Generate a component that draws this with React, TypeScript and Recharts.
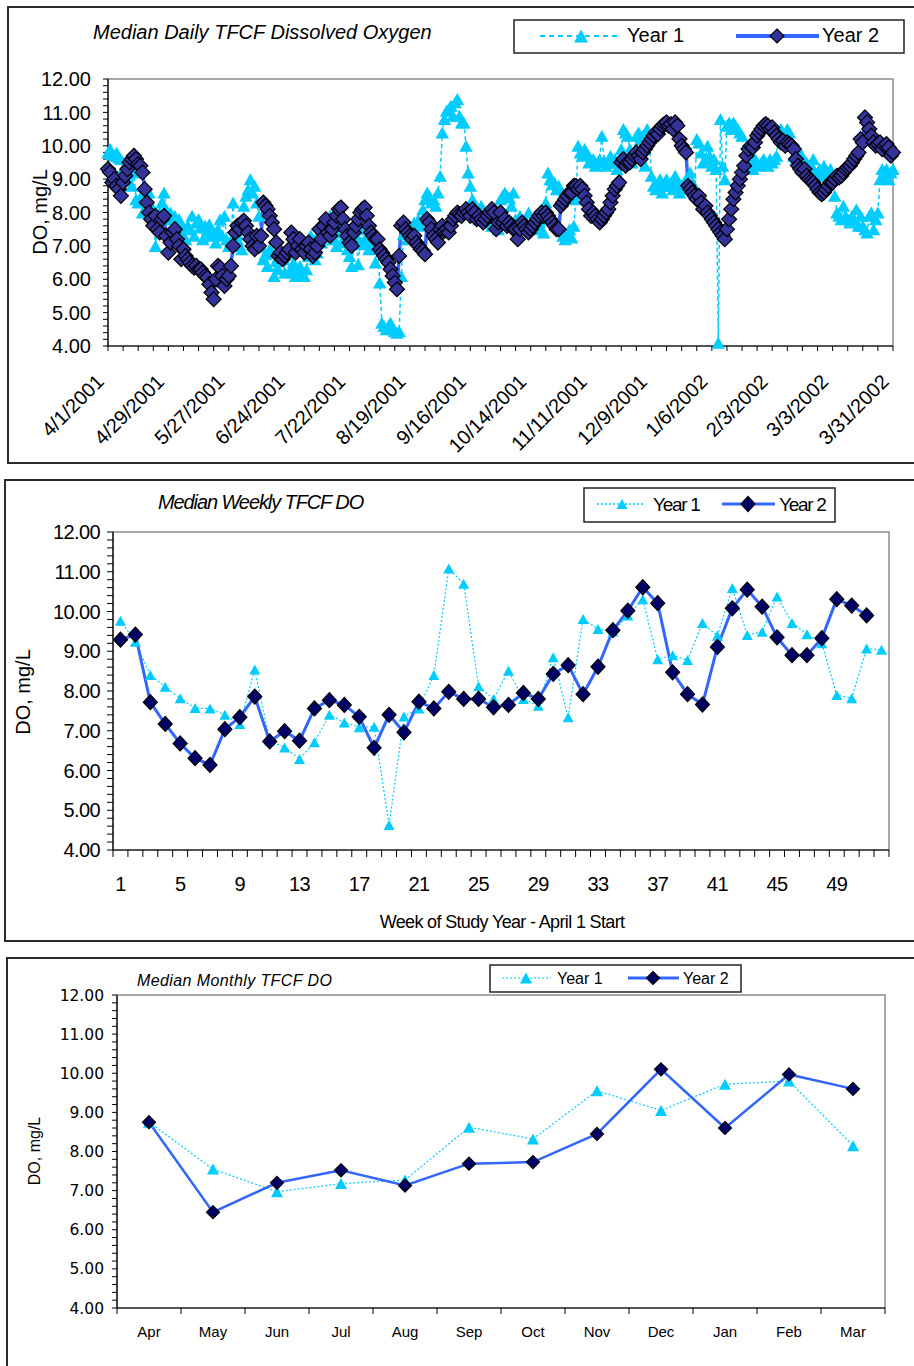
import React from 'react'
import { LineChart, Line, XAxis, YAxis, ReferenceArea } from 'recharts'

const SERIES_NAMES = ['Year 1', 'Year 2']

const Y_MAJOR = [4, 5, 6, 7, 8, 9, 10, 11, 12]

const DAILY_LABELS = [
  '4/1/2001', '4/29/2001', '5/27/2001', '6/24/2001', '7/22/2001', '8/19/2001', '9/16/2001',
  '10/14/2001', '11/11/2001', '12/9/2001', '1/6/2002', '2/3/2002', '3/3/2002', '3/31/2002',
]

// median daily DO, one row per week from 4/1
const DAILY_YEAR1 = [
  9.8, 9.9, 9.75, 9.7, 9.8, 9.65, 9.6,
  9.3, 9.25, 9.0, 9.3, 8.8, 9.2, 8.4,
  8.3, 8.45, 8.0, 8.5, 8.4, 8.6, 8.2,
  8.1, 7.0, 7.6, 8.0, 8.3, 8.6, 8.1,
  7.8, 8.0, 7.5, 7.9, 7.7, 7.8, 7.4,
  7.55, 7.2, 7.6, 7.5, 7.9, 7.3, 7.7,
  7.8, 7.55, 7.2, 7.6, 7.4, 7.65, 7.3,
  7.4, 7.1, 7.5, 7.8, 7.3, 7.9, 7.2,
  7.0, 7.15, 8.3, 7.0, 7.2, 7.6, 6.9,
  8.2, 8.5, 8.7, 9.0, 8.6, 8.8, 8.3,
  7.9, 7.0, 6.6, 6.75, 6.4, 6.9, 6.8,
  6.1, 6.55, 6.3, 6.7, 6.6, 6.2, 6.8,
  6.2, 6.3, 6.5, 6.1, 6.25, 6.4, 6.1,
  6.1, 6.3, 6.7, 7.3, 6.9, 6.6, 6.8,
  7.4, 7.1, 7.6, 7.3, 7.5, 7.9, 7.2,
  7.2, 7.0, 7.4, 7.7, 7.1, 7.3, 6.9,
  6.7, 6.4, 7.05, 7.3, 6.45, 7.1, 7.5,
  7.05, 7.3, 6.9, 7.1, 7.4, 6.5, 7.0,
  5.9, 4.7, 4.6, 4.5, 4.6, 4.7, 4.5,
  4.45, 4.4, 4.45, 6.1, 7.35, 7.5, 7.2,
  7.4, 7.55, 7.7, 7.3, 7.8, 7.6, 8.1,
  8.4, 8.6, 8.5, 8.3, 8.4, 8.2, 8.6,
  9.1, 10.4, 10.8, 11.05, 11.1, 11.2, 10.9,
  11.3, 11.4, 10.9, 10.7, 10.7, 10.0, 9.2,
  8.8, 8.4, 8.1, 8.0, 7.8, 8.2, 8.1,
  7.8, 7.7, 7.9, 7.6, 7.85, 7.8, 7.5,
  8.4, 8.5, 8.6, 8.5, 8.45, 8.2, 8.6,
  7.8, 7.6, 7.9, 7.8, 7.5, 7.7, 8.0,
  7.6, 7.7, 7.5, 7.9, 7.6, 7.8, 7.4,
  8.3, 9.2, 9.0, 8.85, 8.9, 8.7, 8.8,
  7.5, 7.3, 7.2, 7.3, 7.5, 7.25, 7.6,
  8.4, 10.0, 9.8, 9.7, 9.9, 9.8, 9.5,
  9.55, 9.6, 9.4, 9.5, 9.6, 10.3, 9.55,
  9.4, 9.5, 9.7, 9.5, 9.6, 9.3, 9.5,
  9.9, 10.5, 10.4, 10.3, 9.9, 9.5, 9.8,
  10.3, 10.4, 10.2, 10.3, 9.4, 10.5, 10.3,
  9.1, 8.8, 8.7, 8.8, 9.0, 8.6, 8.8,
  9.0, 8.8, 8.9, 8.7, 9.1, 8.9, 8.6,
  8.8, 8.7, 9.0, 8.8, 9.2, 8.9, 8.6,
  10.2, 10.1, 9.8, 9.5, 9.6, 10.0, 9.7,
  9.4, 9.6, 9.3, 4.1, 10.8, 9.4, 9.0,
  10.6, 10.7, 10.5, 10.7, 10.6, 10.5, 10.4,
  10.3, 9.4, 9.3, 9.5, 9.4, 9.3, 9.6,
  9.5, 9.4, 9.5, 9.6, 9.5, 9.4, 9.6,
  9.5, 9.6, 9.7, 10.4, 10.5, 10.4, 10.3,
  10.5, 10.4, 10.0, 9.7, 9.6, 9.7, 9.8,
  9.6, 9.4, 9.5, 9.3, 9.4, 9.6, 9.2,
  9.2, 9.3, 9.1, 9.4, 9.2, 9.0, 9.3,
  9.1, 8.5, 8.0, 7.9, 7.8, 8.2, 7.9,
  7.8, 7.7, 7.9, 7.8, 8.1, 7.6, 7.9,
  7.6, 7.5, 7.4, 7.9, 8.0, 7.5, 7.8,
  8.0, 9.0, 9.3, 9.05, 9.3, 9.0, 9.2,
  9.3,
]

const DAILY_YEAR2 = [
  9.3, 9.2, 8.9, 9.0, 8.8, 8.7, 8.5,
  8.9, 9.1, 9.3, 9.5, 9.6, 9.7, 9.6,
  9.45, 9.4, 9.2, 8.7, 8.3, 8.0, 7.8,
  7.6, 7.9, 7.5, 7.4, 7.8, 7.9, 7.3,
  6.8, 7.1, 7.4, 7.5, 7.2, 7.0, 6.6,
  6.9, 6.7, 6.6, 6.5, 6.4, 6.35, 6.4,
  6.3, 6.3, 6.2, 6.1, 6.05, 5.85, 5.6,
  5.4, 6.0, 6.4, 6.35, 6.1, 5.8, 6.0,
  6.1, 6.4, 7.0, 7.4, 7.6, 7.5, 7.7,
  7.75, 7.6, 7.4, 7.2, 7.0, 6.9, 7.3,
  7.0, 7.3, 8.3, 8.2, 8.1, 7.9, 7.7,
  7.5, 7.1, 6.7, 6.8, 6.6, 6.7, 6.8,
  6.9, 7.4, 7.2, 6.8, 7.0, 7.2, 6.9,
  6.8, 7.0, 7.1, 6.9, 6.7, 6.8, 7.0,
  7.5, 7.2, 7.6, 7.8, 7.4, 7.3, 7.5,
  7.7, 7.9, 8.1, 8.15, 7.8, 7.5, 7.3,
  7.1, 7.0, 7.4, 7.6, 7.8, 8.0, 8.1,
  8.15, 7.9, 7.6, 7.4, 7.3, 7.2, 7.2,
  6.9, 6.8, 6.7, 6.6, 6.5, 6.3, 6.1,
  5.9, 5.7, 6.7, 7.6, 7.7, 7.5, 7.4,
  7.3, 7.2, 7.3, 7.1, 7.0, 6.9, 6.85,
  6.75, 7.8, 7.7, 7.5, 7.3, 7.2, 7.1,
  7.5, 7.6, 7.45, 7.5, 7.4, 7.6, 7.8,
  7.9, 8.0, 7.95, 7.9, 8.0, 8.1, 8.0,
  7.9, 8.1, 8.0, 7.8, 7.9, 7.8, 7.7,
  7.8, 7.9, 8.0, 8.1, 8.0, 7.5, 7.7,
  8.0, 7.7, 7.8, 7.6, 7.7, 7.6, 7.5,
  7.5, 7.2, 7.5, 7.7, 7.6, 7.5, 7.4,
  7.5, 7.6, 7.7, 7.8, 7.9, 8.0, 7.9,
  8.0, 7.9, 7.8, 7.7, 7.6, 7.5, 7.5,
  8.2, 8.3, 8.4, 8.5, 8.6, 8.6, 8.8,
  8.8, 8.7, 8.8, 8.7, 8.5, 8.3, 8.1,
  7.9, 8.0, 7.9, 7.8, 7.7, 7.8, 7.9,
  8.0, 8.1, 8.3, 8.5, 8.7, 8.8, 8.9,
  9.5, 9.6, 9.4, 9.5, 9.5, 9.6, 9.7,
  9.8, 9.7, 9.6, 9.8, 9.9, 10.0, 10.1,
  10.2, 10.3, 10.4, 10.35, 10.5, 10.6, 10.65,
  10.7, 10.6, 10.65, 10.5, 10.7, 10.6, 10.2,
  10.0, 9.9, 9.8, 8.8, 8.7, 8.6, 8.5,
  8.4, 8.5, 8.3, 8.1, 8.2, 8.0, 7.9,
  7.8, 7.7, 7.6, 7.5, 7.4, 7.3, 7.2,
  7.5, 7.8, 8.1, 8.4, 8.6, 8.8, 9.0,
  9.2, 9.4, 9.7, 9.9, 10.0, 9.95, 10.1,
  10.3, 10.4, 10.5, 10.6, 10.65, 10.6, 10.5,
  10.55, 10.4, 10.3, 10.2, 10.1, 10.15, 10.0,
  10.1, 10.05, 10.0, 9.9, 9.6, 9.4, 9.3,
  9.2, 9.3, 9.1, 9.0, 8.95, 8.9, 8.8,
  8.7, 8.6, 8.55, 8.6, 8.7, 8.8, 8.9,
  8.9, 9.0, 9.1, 9.05, 9.1, 9.2, 9.3,
  9.35, 9.4, 9.5, 9.6, 9.7, 9.8, 10.2,
  10.1, 10.85, 10.7, 10.5, 10.3, 10.1, 10.0,
  10.05, 10.1, 9.9, 10.0, 10.05, 9.95, 9.7,
  9.8,
]

const WEEK_LABELS = [1, 5, 9, 13, 17, 21, 25, 29, 33, 37, 41, 45, 49]

const WEEKLY_YEAR1 = [
  9.77, 9.24, 8.4, 8.11, 7.82, 7.57, 7.56, 7.4, 7.17, 8.54,
  6.75, 6.58, 6.29, 6.71, 7.4, 7.21, 7.09, 7.1, 4.63, 7.36,
  7.56, 8.4, 11.08, 10.7, 8.12, 7.8, 8.51, 7.8, 7.63, 8.85,
  7.34, 9.81, 9.56, 9.5, 9.9, 10.31, 8.8, 8.9, 8.78, 9.71,
  9.39, 10.59, 9.41, 9.49, 10.38, 9.71, 9.43, 9.2, 7.9, 7.82,
  9.07, 9.04,
]

const WEEKLY_YEAR2 = [
  9.29, 9.42, 7.72, 7.17, 6.68, 6.31, 6.14, 7.04, 7.34, 7.86,
  6.73, 6.99, 6.75, 7.56, 7.77, 7.65, 7.35, 6.57, 7.4, 6.96,
  7.73, 7.56, 7.98, 7.8, 7.8, 7.59, 7.65, 7.95, 7.8, 8.43,
  8.65, 7.92, 8.61, 9.53, 10.02, 10.61, 10.21, 8.47, 7.92, 7.66,
  9.11, 10.08, 10.55, 10.12, 9.35, 8.9, 8.9, 9.33, 10.31, 10.15,
  9.9, null,
]

const MONTHS = ['Apr', 'May', 'Jun', 'Jul', 'Aug', 'Sep', 'Oct', 'Nov', 'Dec', 'Jan', 'Feb', 'Mar']
const MONTHLY_YEAR1 = [8.75, 7.55, 6.97, 7.18, 7.27, 8.62, 8.32, 9.55, 9.05, 9.72, 9.8, 8.15]
const MONTHLY_YEAR2 = [8.75, 6.45, 7.2, 7.52, 7.13, 7.69, 7.73, 8.45, 10.1, 8.6, 9.97, 9.6]

const CYAN = '#00CCFF'
const BLUE = '#3366FF'
const FONT = "'Liberation Sans', Arial, sans-serif"

const yTicks = Y_MAJOR.flatMap((v, i) =>
  i === 0 ? [v] : [0.8, 0.6, 0.4, 0.2].map((d) => Math.round((v - d) * 10) / 10).concat(v)
)
const isMajor = (v: number) => Math.abs(v - Math.round(v)) < 0.01

const dailyData = DAILY_YEAR1.map((v, i) => ({ day: i, y1: v, y2: DAILY_YEAR2[i] }))
const dailyTicks = dailyData.filter((d) => d.day % 7 === 0).map((d) => d.day)

const weeklyData = WEEKLY_YEAR1.map((v, i) => ({ week: i + 1, y1: v, y2: WEEKLY_YEAR2[i] }))
const weeklyTicks = weeklyData.flatMap((d) => [d.week - 0.5, d.week]).concat(weeklyData.length + 0.5)

const monthlyData = MONTHS.map((m, i) => ({ idx: i + 1, month: m, y1: MONTHLY_YEAR1[i], y2: MONTHLY_YEAR2[i] }))
const monthlyTicks = monthlyData.flatMap((d) => [d.idx - 0.5, d.idx]).concat(MONTHS.length + 0.5)

function triPts(cx: number, cy: number, w: number, h: number) {
  return `${cx},${cy - h / 2} ${cx + w / 2},${cy + h / 2} ${cx - w / 2},${cy + h / 2}`
}

function diaPts(cx: number, cy: number, rx: number, ry: number) {
  return `${cx},${cy - ry} ${cx + rx},${cy} ${cx},${cy + ry} ${cx - rx},${cy}`
}

function triangleDot(w: number, h: number) {
  return (p: any) => {
    const { cx, cy, index } = p
    if (!Number.isFinite(cx) || !Number.isFinite(cy)) return <g key={`t${index}`} />
    return <polygon key={`t${index}`} points={triPts(cx, cy, w, h)} fill={CYAN} />
  }
}

function diamondDot(rx: number, ry: number, fill: string) {
  return (p: any) => {
    const { cx, cy, index } = p
    if (!Number.isFinite(cx) || !Number.isFinite(cy)) return <g key={`d${index}`} />
    return (
      <polygon key={`d${index}`} points={diaPts(cx, cy, rx, ry)} fill={fill} stroke="#000" strokeWidth={1.2} />
    )
  }
}

function yTick(fontSize: number, family: string, spacing = 0) {
  return (p: any) => {
    const v = p.payload.value
    if (!isMajor(v)) return <g />
    return (
      <text x={p.x} y={p.y} dy="0.36em" textAnchor="end" fontSize={fontSize} fontFamily={family}
        letterSpacing={spacing} fill="#000">
        {v.toFixed(2)}
      </text>
    )
  }
}

function dailyTick(p: any) {
  const v = p.payload.value
  if (v % 28 !== 0) return <g />
  const ax = p.x - 3
  const ay = p.y + 32
  return (
    <text x={ax} y={ay} transform={`rotate(-45 ${ax} ${ay})`} textAnchor="end" fontSize={20}
      fontFamily={FONT} fill="#000">
      {DAILY_LABELS[v / 28]}
    </text>
  )
}

// ticks on category boundaries, labels in the middle of each category
function bandTick(labelOf: (v: number) => string | null, fontSize: number, spacing: number, dy: number, len: number) {
  return (p: any) => {
    const v = p.payload.value
    if (!Number.isInteger(v)) {
      return <line x1={p.x} x2={p.x} y1={p.y} y2={p.y + len} stroke="#000" strokeWidth={1} />
    }
    const label = labelOf(v)
    if (!label) return <g />
    return (
      <text x={p.x} y={p.y + dy} textAnchor="middle" fontSize={fontSize} fontFamily={FONT}
        letterSpacing={spacing} fill="#000">
        {label}
      </text>
    )
  }
}

const axisLine = { stroke: '#000', strokeWidth: 1.2 }

function DailyChart() {
  return (
    <LineChart width={914} height={470} data={dailyData} margin={{ top: 79, right: 21, bottom: 0, left: 0 }}>
      <ReferenceArea x1={0} x2={364} y1={4} y2={12} fill="none" stroke="#8c8c8c" strokeWidth={1.5} ifOverflow="visible" />
      <XAxis dataKey="day" type="number" domain={[0, 364]} ticks={dailyTicks} interval={0} height={124}
        axisLine={axisLine} tickLine={{ stroke: '#000' }} tickSize={5} tickMargin={0} tick={dailyTick} />
      <YAxis type="number" domain={[4, 12]} ticks={yTicks} interval={0} width={108}
        axisLine={axisLine} tickLine={{ stroke: '#000' }} tickSize={5} tickMargin={12} tick={yTick(20, FONT)} />
      <Line dataKey="y1" name={SERIES_NAMES[0]} stroke={CYAN} strokeWidth={1.5} strokeDasharray="4 3"
        dot={triangleDot(13.5, 12)} activeDot={false} isAnimationActive={false} />
      <Line dataKey="y2" name={SERIES_NAMES[1]} stroke={BLUE} strokeWidth={3.5}
        dot={diamondDot(7.5, 7.5, '#333399')} activeDot={false} isAnimationActive={false} />
    </LineChart>
  )
}

function WeeklyChart() {
  return (
    <LineChart width={914} height={480} data={weeklyData} margin={{ top: 62, right: 25, bottom: 0, left: 0 }}>
      <ReferenceArea x1={0.5} x2={52.5} y1={4} y2={12} fill="none" stroke="#8c8c8c" strokeWidth={1.5} ifOverflow="visible" />
      <XAxis dataKey="week" type="number" domain={[0.5, 52.5]} ticks={weeklyTicks} interval={0} height={100}
        axisLine={axisLine} tickLine={false} tickSize={0} tickMargin={0}
        tick={bandTick((v) => (WEEK_LABELS.includes(v) ? String(v) : null), 20, -0.6, 41, 7)} />
      <YAxis type="number" domain={[4, 12]} ticks={yTicks} interval={0} width={113}
        axisLine={axisLine} tickLine={{ stroke: '#000' }} tickSize={6} tickMargin={7} tick={yTick(20, FONT, -0.6)} />
      <Line dataKey="y1" name={SERIES_NAMES[0]} stroke={CYAN} strokeWidth={1.2} strokeDasharray="2 2"
        dot={triangleDot(11, 10)} activeDot={false} isAnimationActive={false} />
      <Line dataKey="y2" name={SERIES_NAMES[1]} stroke={BLUE} strokeWidth={3}
        dot={diamondDot(7, 7.5, '#000066')} activeDot={false} isAnimationActive={false} />
    </LineChart>
  )
}

function MonthlyChart() {
  return (
    <LineChart width={914} height={416} data={monthlyData} margin={{ top: 45, right: 29, bottom: 0, left: 0 }}>
      <ReferenceArea x1={0.5} x2={12.5} y1={4} y2={12} fill="none" stroke="#8c8c8c" strokeWidth={1.5} ifOverflow="visible" />
      <XAxis dataKey="idx" type="number" domain={[0.5, 12.5]} ticks={monthlyTicks} interval={0} height={58}
        axisLine={axisLine} tickLine={false} tickSize={0} tickMargin={0}
        tick={bandTick((v) => MONTHS[v - 1] ?? null, 15, 0, 29, 6)} />
      <YAxis type="number" domain={[4, 12]} ticks={yTicks} interval={0} width={117}
        axisLine={axisLine} tickLine={{ stroke: '#000' }} tickSize={5} tickMargin={8}
        tick={yTick(15.5, "'DejaVu Sans', sans-serif")} />
      <Line dataKey="y1" name={SERIES_NAMES[0]} stroke={CYAN} strokeWidth={1.2} strokeDasharray="2 2"
        dot={triangleDot(12, 11)} activeDot={false} isAnimationActive={false} />
      <Line dataKey="y2" name={SERIES_NAMES[1]} stroke={BLUE} strokeWidth={2.5}
        dot={diamondDot(6.5, 6.5, '#000066')} activeDot={false} isAnimationActive={false} />
    </LineChart>
  )
}

function LegendBox(props: {
  x: number; y: number; w: number; h: number; cy: number; fontSize: number; spacing: number; textDy: number
  l1: [number, number, number]; t1: number; l2: [number, number, number]; t2: number
  tri: [number, number]; dia: [number, number]; y1Width: number; y2Width: number; y1Dash: string
  diaFill: string
}) {
  const p = props
  return (
    <g>
      <rect x={p.x} y={p.y} width={p.w} height={p.h} fill="#fff" stroke="#222" strokeWidth={1.5} />
      <line x1={p.l1[0]} x2={p.l1[1]} y1={p.cy} y2={p.cy} stroke={CYAN} strokeWidth={p.y1Width} strokeDasharray={p.y1Dash} />
      <polygon points={triPts(p.l1[2], p.cy, p.tri[0], p.tri[1])} fill={CYAN} />
      <text x={p.t1} y={p.cy + p.textDy} fontSize={p.fontSize} letterSpacing={p.spacing} fontFamily={FONT}>
        {SERIES_NAMES[0]}
      </text>
      <line x1={p.l2[0]} x2={p.l2[1]} y1={p.cy} y2={p.cy} stroke={BLUE} strokeWidth={p.y2Width} />
      <polygon points={diaPts(p.l2[2], p.cy, p.dia[0], p.dia[1])} fill={p.diaFill} stroke="#000" strokeWidth={1.2} />
      <text x={p.t2} y={p.cy + p.textDy} fontSize={p.fontSize} letterSpacing={p.spacing} fontFamily={FONT}>
        {SERIES_NAMES[1]}
      </text>
    </g>
  )
}

function Overlay() {
  return (
    <svg width={914} height={1366} style={{ position: 'absolute', left: 0, top: 0, pointerEvents: 'none' }}>
      <g fill="none" stroke="#2b2b2b" strokeWidth={2}>
        <rect x={8} y={7} width={920} height={456} />
        <rect x={5} y={480} width={920} height={461} />
        <rect x={7} y={958} width={920} height={420} />
      </g>

      <text x={93} y={39} fontSize={20} fontStyle="italic" fontFamily={FONT}>
        Median Daily TFCF Dissolved Oxygen
      </text>
      <text x={47} y={212} transform="rotate(-90 47 212)" textAnchor="middle" fontSize={20} fontFamily={FONT}>
        DO, mg/L
      </text>
      <LegendBox x={514} y={20} w={390} h={33} cy={36} fontSize={20} spacing={0} textDy={6}
        l1={[540, 620, 581]} t1={627} l2={[736, 819, 777]} t2={822} tri={[14, 13]} dia={[7, 7]}
        y1Width={2} y2Width={4} y1Dash="5 4" diaFill="#333399" />

      <text x={158} y={509} fontSize={20} fontStyle="italic" letterSpacing={-1.1} fontFamily={FONT}>
        Median Weekly TFCF DO
      </text>
      <text x={29.5} y={692} transform="rotate(-90 29.5 692)" textAnchor="middle" fontSize={20} fontFamily={FONT}>
        DO, mg/L
      </text>
      <text x={502} y={928} textAnchor="middle" fontSize={18} letterSpacing={-0.65} fontFamily={FONT}>
        Week of Study Year - April 1 Start
      </text>
      <LegendBox x={584} y={488} w={251} h={34} cy={504} fontSize={19} spacing={-1.3} textDy={7}
        l1={[597, 645, 622]} t1={653} l2={[722, 775, 748]} t2={779} tri={[11, 10]} dia={[7, 7.5]}
        y1Width={1.5} y2Width={3} y1Dash="2 2" diaFill="#000066" />

      <text x={137} y={986} fontSize={16} fontStyle="italic" letterSpacing={0.4} fontFamily={FONT}>
        Median Monthly TFCF DO
      </text>
      <text x={39.5} y={1151} transform="rotate(-90 39.5 1151)" textAnchor="middle" fontSize={16} fontFamily={FONT}>
        DO, mg/L
      </text>
      <LegendBox x={490} y={965} w={251} h={27} cy={978} fontSize={16} spacing={0} textDy={6}
        l1={[502, 551, 526]} t1={557} l2={[628, 679, 653]} t2={683} tri={[12, 11]} dia={[6.5, 6.5]}
        y1Width={1.2} y2Width={3} y1Dash="2 2" diaFill="#000066" />
    </svg>
  )
}

export default function App() {
  return (
    <div style={{ position: 'relative', width: 914, height: 1366, overflow: 'hidden', background: '#fff', fontFamily: FONT }}>
      <style>{'body{margin:0}'}</style>
      <div style={{ position: 'absolute', left: 0, top: 0 }}>
        <DailyChart />
      </div>
      <div style={{ position: 'absolute', left: 0, top: 470 }}>
        <WeeklyChart />
      </div>
      <div style={{ position: 'absolute', left: 0, top: 950 }}>
        <MonthlyChart />
      </div>
      <Overlay />
    </div>
  )
}
